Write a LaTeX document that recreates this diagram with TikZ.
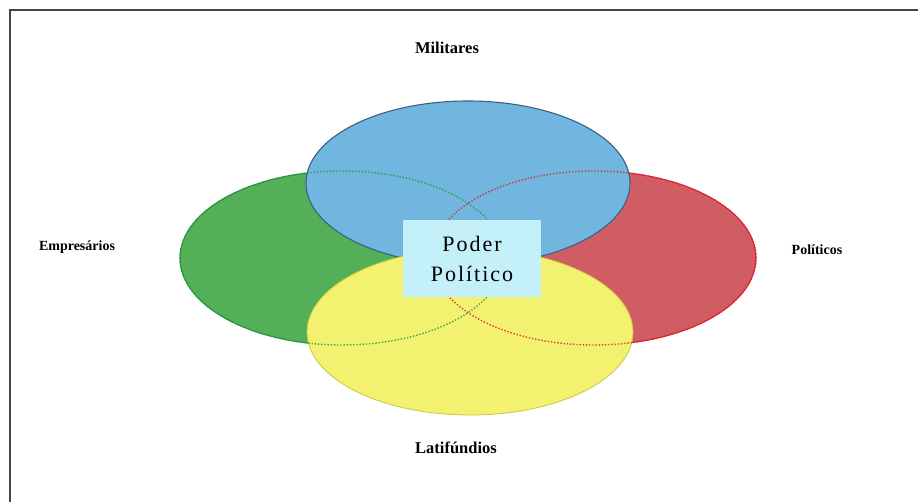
\documentclass[tikz,border=0pt]{standalone}
\usepackage{fontspec}
\setmainfont{Liberation Serif}
\newfontfamily\boxfnt[LetterSpace=9]{Liberation Serif}
\usetikzlibrary{shapes.geometric}
\definecolor{cgreen}{RGB}{84,176,88}
\definecolor{cgreenl}{RGB}{40,150,60}
\definecolor{cred}{RGB}{208,92,100}
\definecolor{credl}{RGB}{225,35,45}
\definecolor{cblue}{RGB}{112,182,222}
\definecolor{cbluel}{RGB}{60,95,135}
\definecolor{cyel}{RGB}{242,242,112}
\definecolor{cyell}{RGB}{200,200,60}
\definecolor{cbox}{RGB}{196,240,250}
\definecolor{cframe}{RGB}{70,70,70}
\begin{document}
\begin{tikzpicture}[x=1pt,y=-1pt,
  ell/.style={ellipse, inner sep=0pt, outer sep=0pt, minimum width=324pt},
  dotline/.style={ellipse, inner sep=0pt, outer sep=0pt, minimum width=324pt, draw=#1, line width=1.4pt, dash pattern=on 1.4pt off 1.8pt, opacity=0.85},
  lbl/.style={inner sep=1pt, font=\bfseries\fontsize{14}{18}\selectfont},
  lblbig/.style={inner sep=1pt, font=\bfseries\fontsize{16.5}{20}\selectfont}]
\useasboundingbox (0,0) rectangle (918,502);
\fill[white] (0,0) rectangle (918,502);
% frame (left and top edges)
\coordinate (fbl) at (10,502);
\coordinate (ftl) at (10,10);
\coordinate (ftr) at (918,10);
\draw[cframe, line width=2.2pt] (fbl) -- (ftl) -- (ftr);
% ellipses
\node[ell, minimum height=174pt, fill=cgreen, draw=cgreenl, line width=1.1pt] (emp) at (342,258) {};
\node[ell, minimum height=174pt, fill=cred, draw=credl, line width=1.1pt] (pol) at (594,258) {};
\node[ell, minimum height=164pt, fill=cblue, draw=cbluel, line width=1.1pt] (mil) at (468,183) {};
\node[ell, minimum width=326pt, minimum height=166pt, fill=cyel, draw=cyell, line width=0.8pt] (lat) at (470,332) {};
% hidden outlines showing through
\node[dotline=cgreenl, minimum height=174pt] (empd) at (emp.center) {};
\node[dotline=credl, minimum height=174pt] (pold) at (pol.center) {};
% central box
\node[fill=cbox, minimum width=138pt, minimum height=77pt, inner sep=0pt, align=center,
      font=\boxfnt\fontsize{22}{30}\selectfont] (poder) at (472,258.5)
      {Poder\\Político};
% labels
\node[lblbig] (lmil) at (447,48) {Militares};
\node[lbl] (lemp) at (77,247) {Empresários};
\node[lbl] (lpol) at (817,250) {Políticos};
\node[lblbig] (llat) at (456,448) {Latifúndios};
\end{tikzpicture}
\end{document}
